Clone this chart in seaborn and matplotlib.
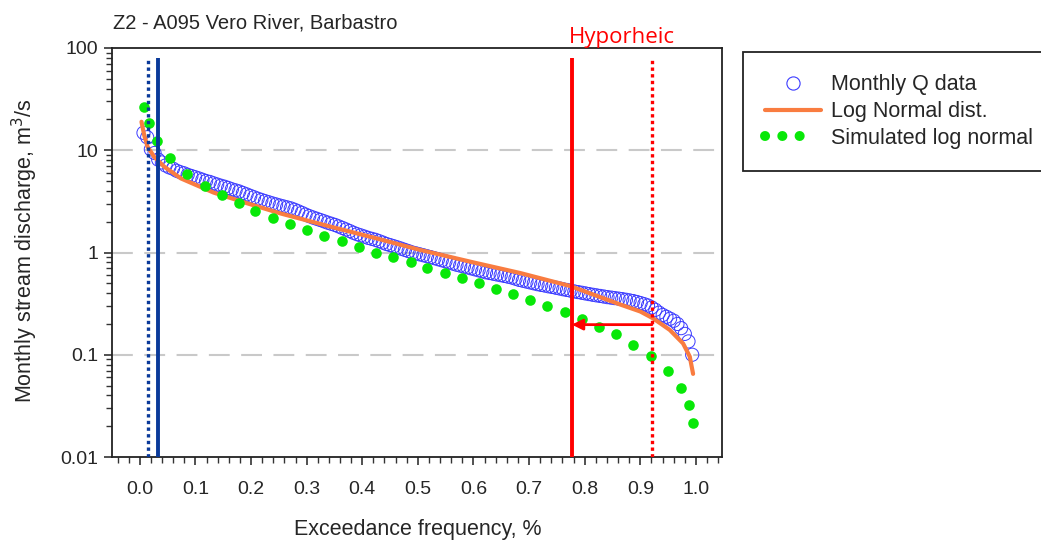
import numpy as np
import pandas as pd
import matplotlib
matplotlib.use("Agg")
import matplotlib.pyplot as plt
from matplotlib.lines import Line2D
import seaborn as sns

# Monthly Q data (sorted, m3/s), exceedance frequency from rank
monthly_q = [14.8, 13.4, 10.2, 9.4, 8.1, 7.6, 7.1, 6.8, 6.6, 6.3,
             6.1, 5.95, 5.75, 5.6, 5.45, 5.3, 5.15, 5.0, 4.9, 4.75,
             4.62, 4.5, 4.4, 4.28, 4.15, 4.05, 3.95, 3.82, 3.7, 3.58,
             3.47, 3.36, 3.27, 3.18, 3.1, 3.02, 2.95, 2.88, 2.82, 2.76,
             2.7, 2.62, 2.53, 2.44, 2.35, 2.27, 2.2, 2.14, 2.08, 2.02,
             1.96, 1.91, 1.86, 1.8, 1.74, 1.68, 1.62, 1.56, 1.51, 1.47,
             1.43, 1.39, 1.36, 1.33, 1.29, 1.25, 1.21, 1.18, 1.15, 1.12,
             1.09, 1.06, 1.03, 1.0, 0.98, 0.96, 0.94, 0.92, 0.9, 0.88,
             0.86, 0.84, 0.82, 0.8, 0.78, 0.76, 0.745, 0.73, 0.715, 0.7,
             0.685, 0.67, 0.655, 0.64, 0.63, 0.62, 0.61, 0.6, 0.59, 0.58,
             0.57, 0.555, 0.54, 0.53, 0.52, 0.51, 0.5, 0.49, 0.482, 0.475,
             0.467, 0.46, 0.452, 0.445, 0.437, 0.43, 0.423, 0.416, 0.41, 0.404,
             0.398, 0.392, 0.386, 0.381, 0.376, 0.371, 0.366, 0.362, 0.358, 0.354,
             0.35, 0.345, 0.34, 0.335, 0.328, 0.32, 0.312, 0.303, 0.29, 0.275,
             0.258, 0.245, 0.235, 0.225, 0.215, 0.2, 0.182, 0.16, 0.135, 0.1]

# Log Normal distribution curve
lognorm_x = [0.003, 0.008, 0.014, 0.026, 0.044, 0.074, 0.10, 0.133, 0.193, 0.253,
             0.343, 0.42, 0.504, 0.60, 0.684, 0.774, 0.864, 0.90, 0.923, 0.953,
             0.977, 0.989, 0.995]
lognorm_q = [19.0, 14.0, 10.8, 8.6, 6.9, 5.3, 4.6, 3.85, 3.03, 2.41,
             1.79, 1.40, 1.06, 0.80, 0.63, 0.47, 0.31, 0.265, 0.227, 0.175,
             0.129, 0.096, 0.065]

# Simulated log normal
sim_x = [0.0077, 0.0167, 0.0305, 0.0539, 0.0856, 0.1167, 0.1478, 0.1777, 0.2077, 0.2388,
         0.2698, 0.301, 0.332, 0.363, 0.394, 0.425, 0.455, 0.487, 0.517, 0.548,
         0.579, 0.610, 0.641, 0.671, 0.702, 0.733, 0.764, 0.795, 0.825, 0.856,
         0.887, 0.919, 0.949, 0.973, 0.987, 0.995]
sim_q = [26.7, 18.3, 12.3, 8.34, 5.86, 4.50, 3.67, 3.03, 2.55, 2.19,
         1.91, 1.65, 1.45, 1.29, 1.13, 1.00, 0.90, 0.80, 0.71, 0.634,
         0.563, 0.503, 0.443, 0.390, 0.343, 0.30, 0.262, 0.225, 0.187, 0.158,
         0.125, 0.097, 0.069, 0.047, 0.032, 0.0216]

blue_lines = [0.014, 0.032]
red_lines = [0.777, 0.921]
arrow_q = 0.197

n = len(monthly_q)
df_q = pd.DataFrame({"freq": np.arange(1, n + 1) / (n + 1), "q": monthly_q})
df_ln = pd.DataFrame({"freq": lognorm_x, "q": lognorm_q})
df_sim = pd.DataFrame({"freq": sim_x, "q": sim_q})

sns.set_style("ticks")
plt.rcParams["font.family"] = ["Liberation Sans", "DejaVu Sans"]

fig = plt.figure(figsize=(10.41, 5.40), dpi=100)
ax = fig.add_axes([112 / 1041, 1 - 457 / 540, 610 / 1041, 409 / 540])

c_blue = "#0a3a9a"
c_red = "#ff0000"
c_data = "#3b3bff"
c_orange = "#f97c40"
c_green = "#08e808"

for yv in [10, 1, 0.1]:
    ax.axhline(yv, color="#c9c9c9", lw=1.5, ls=(0, (10, 5.5)), zorder=0)

ax.vlines(blue_lines[0], 0.01, 80, color=c_blue, lw=2.4, ls=(0, (1, 1)), zorder=4)
ax.vlines(blue_lines[1], 0.01, 80, color=c_blue, lw=2.8, zorder=4)
ax.vlines(red_lines[0], 0.01, 80, color=c_red, lw=2.8, zorder=4)
ax.vlines(red_lines[1], 0.01, 80, color=c_red, lw=2.4, ls=(0, (1, 1)), zorder=4)

sns.scatterplot(data=df_q, x="freq", y="q", ax=ax, marker="o", s=90,
                facecolors="none", edgecolor=c_data, linewidth=0.7, zorder=2)
sns.lineplot(data=df_ln, x="freq", y="q", ax=ax, color=c_orange, lw=3, sort=False, zorder=3)
sns.scatterplot(data=df_sim, x="freq", y="q", ax=ax, color=c_green, s=58,
                linewidth=0, zorder=3)

ax.annotate("", xy=(red_lines[0], arrow_q), xytext=(red_lines[1], arrow_q),
            arrowprops=dict(arrowstyle="-|>", color=c_red, lw=2, mutation_scale=16,
                            shrinkA=0, shrinkB=0), zorder=5)

ax.set_yscale("log")
ax.set_ylim(0.01, 100)
ax.set_xlim(-0.05, 1.047)
ax.set_xticks(np.arange(0, 1.01, 0.1))
ax.set_xticks(np.arange(-0.04, 1.05, 0.02), minor=True)
ax.set_xticklabels([f"{v:.1f}" for v in np.arange(0, 1.01, 0.1)])
ax.set_yticks([0.01, 0.1, 1, 10, 100])
ax.set_yticklabels(["0.01", "0.1", "1", "10", "100"])
ax.tick_params(axis="both", which="major", labelsize=14, length=6, width=1.2, color="#333333")
ax.tick_params(axis="both", which="minor", length=4, width=1.0, color="#333333")
ax.tick_params(axis="x", which="major", pad=11)
ax.tick_params(axis="y", which="major", pad=4)
for s in ax.spines.values():
    s.set_linewidth(1.3)
    s.set_color("#222222")

ax.set_xlabel("Exceedance frequency, %", fontsize=15.5)
ax.set_ylabel("Monthly stream discharge, m$^3$/s", fontsize=15.5)
ax.xaxis.set_label_coords(0.5016, -0.152)
ax.yaxis.set_label_coords(-0.118, 0.505)

fig.text(113 / 1041, 1 - 23 / 540, "Z2 - A095 Vero River, Barbastro", fontsize=14.5,
         ha="left", va="center")
fig.text(622 / 1041, 1 - 38 / 540, "Hyporheic", fontsize=16, color=c_red,
         ha="center", va="center", family=["Open Sans", "DejaVu Sans"])

handles = [
    Line2D([], [], ls="none", marker="o", markersize=9.5, markerfacecolor="none",
           markeredgecolor=c_data, markeredgewidth=0.8),
    Line2D([], [], color=c_orange, lw=3),
    Line2D([], [], color=c_green, lw=7.2, dash_capstyle="round",
           ls=(0, (0.01, 1.72, 0.01, 1.72, 0.01, 4.0))),
]
labels = ["Monthly Q data", "Log Normal dist.", "Simulated log normal"]
leg = fig.legend(handles, labels, loc="upper left", bbox_to_anchor=(743 / 1041, 1 - 52 / 540),
                 borderaxespad=0, fontsize=15.5, frameon=True, fancybox=False,
                 edgecolor="#222222", framealpha=1, borderpad=1.04, labelspacing=0.27,
                 handlelength=2.6, handletextpad=0.45, numpoints=1)
leg.get_frame().set_linewidth(1.3)

fig.savefig("out.png", dpi=100)
